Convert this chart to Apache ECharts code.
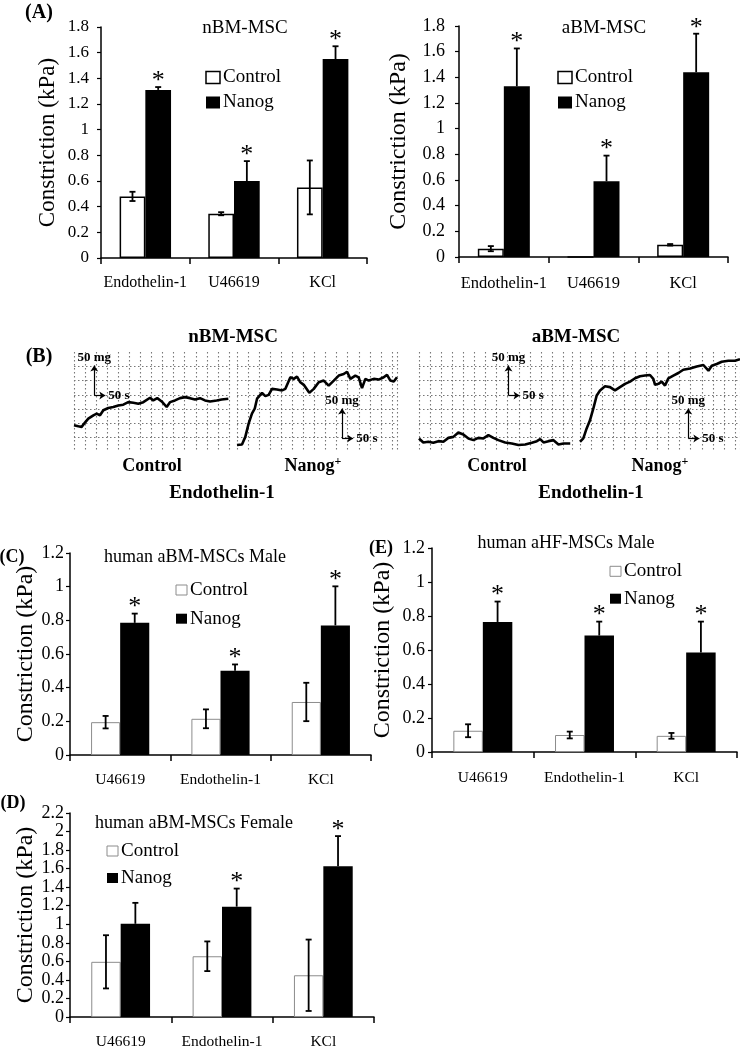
<!DOCTYPE html>
<html>
<head>
<meta charset="utf-8">
<title>Nanog constriction</title>
<script src="https://cdn.jsdelivr.net/npm/echarts@6/dist/echarts.min.js"></script>
<style>
  html, body { margin: 0; padding: 0; background: #fff; }
  #chart { width: 740px; height: 1050px; }
</style>
</head>
<body>
<div id="chart"></div>
<script>
// categories
const catsA = ['Endothelin-1', 'U46619', 'KCl']
const catsHuman = ['U46619', 'Endothelin-1', 'KCl']
const groups = ['Control', 'Nanog']

// (A) nBM-MSC
const nbmControl = [0.48, 0.345, 0.55]
const nbmControlErr = [0.036, 0.012, 0.21]
const nbmNanog = [1.31, 0.6, 1.55]
const nbmNanogErr = [0.022, 0.155, 0.1]
const nbmStars = [1, 1, 1]

// (A) aBM-MSC
const abmControl = [0.065, 0, 0.095]
const abmControlErr = [0.02, 0, 0.006]
const abmNanog = [1.33, 0.59, 1.44]
const abmNanogErr = [0.295, 0.2, 0.3]
const abmStars = [1, 1, 1]

// (C) human aBM-MSCs Male
const maleControl = [0.195, 0.215, 0.315]
const maleControlErr = [0.037, 0.056, 0.114]
const maleNanog = [0.785, 0.5, 0.77]
const maleNanogErr = [0.055, 0.038, 0.232]
const maleStars = [1, 1, 1]

// (E) human aHF-MSCs Male
const hfControl = [0.125, 0.1, 0.095]
const hfControlErr = [0.038, 0.02, 0.017]
const hfNanog = [0.765, 0.685, 0.585]
const hfNanogErr = [0.12, 0.082, 0.182]
const hfStars = [1, 1, 1]

// (D) human aBM-MSCs Female
const femaleControl = [0.595, 0.655, 0.45]
const femaleControlErr = [0.287, 0.16, 0.385]
const femaleNanog = [1.005, 1.19, 1.625]
const femaleNanogErr = [0.226, 0.195, 0.326]
const femaleStars = [0, 1, 1]

// (B) tension traces, [time, tension] in chart-paper grid units
const traceNbmControl = [[0, 1.88], [0.39, 1.8], [0.69, 1.76], [0.99, 2.06], [1.29, 2.34], [1.75, 2.57], [2.05, 2.69],
  [2.35, 2.57], [2.65, 2.92], [3.1, 3.08], [3.55, 3.15], [4.0, 3.26], [4.45, 3.31], [4.9, 3.49], [5.36, 3.45],
  [5.81, 3.38], [6.26, 3.49], [6.87, 3.8], [7.16, 3.61], [7.52, 3.77], [7.92, 3.54], [8.37, 3.15], [8.67, 3.49],
  [9.12, 3.61], [9.58, 3.77], [10.03, 3.84], [10.48, 3.77], [10.93, 3.68], [11.38, 3.77], [11.83, 3.61],
  [12.29, 3.54], [12.89, 3.61], [13.34, 3.68], [13.94, 3.73]]
const traceNbmNanog = [[0, 0.49], [0.45, 0.53], [0.75, 1.06], [1.05, 1.99], [1.35, 2.69], [1.6, 3.03], [1.81, 3.73],
  [2.26, 4.14], [2.56, 3.91], [2.86, 4.0], [3.16, 4.42], [3.61, 4.38], [4.07, 4.31], [4.37, 4.42], [4.82, 5.23],
  [5.12, 5.12], [5.42, 5.28], [5.72, 4.88], [6.03, 4.7], [6.53, 4.14], [6.93, 4.42], [7.38, 4.88], [7.83, 5.0],
  [8.28, 4.65], [8.74, 5.0], [9.19, 5.35], [9.64, 5.46], [9.94, 5.62], [10.24, 5.12], [10.69, 5.35], [10.99, 5.23],
  [11.29, 4.47], [11.59, 5.12], [11.9, 5.0], [12.35, 5.12], [12.8, 5.07], [13.25, 5.23], [13.55, 5.4],
  [13.85, 5.0], [14.16, 4.93], [14.45, 5.23]]
const traceAbmControl = [[0, 0.95], [0.39, 0.67], [0.84, 0.72], [1.29, 0.65], [1.75, 0.76], [2.2, 0.72], [2.65, 0.99],
  [3.1, 1.06], [3.55, 1.37], [4.0, 1.23], [4.46, 0.95], [4.91, 0.83], [5.36, 0.99], [5.81, 0.95], [6.26, 1.18],
  [6.71, 0.99], [7.16, 0.83], [7.77, 0.67], [8.37, 0.6], [8.97, 0.49], [9.58, 0.53], [10.18, 0.65], [10.63, 0.76],
  [10.93, 0.9], [11.23, 0.67], [11.68, 0.76], [12.13, 0.83], [12.58, 0.53], [13.04, 0.6], [13.64, 0.6]]
const traceAbmNanog = [[0, 0.72], [0.3, 0.95], [0.6, 1.65], [0.9, 2.22], [1.2, 3.03], [1.51, 3.96], [1.81, 4.31],
  [2.26, 4.6], [2.71, 4.54], [3.16, 4.31], [3.61, 4.54], [4.07, 4.77], [4.52, 4.93], [4.97, 5.16], [5.42, 5.3],
  [5.87, 5.35], [6.32, 5.39], [6.62, 5.12], [6.78, 4.7], [7.08, 4.77], [7.38, 4.93], [7.68, 4.65], [7.98, 5.16],
  [8.43, 5.35], [8.88, 5.53], [9.33, 5.76], [9.94, 5.85], [10.54, 5.99], [11.14, 6.09], [11.6, 5.69], [11.9, 6.04],
  [12.35, 6.16], [12.8, 6.32], [13.4, 6.39], [14.0, 6.39], [14.45, 6.5]]

const FONT = 'Liberation Serif'
const GAP = 0.42

// legend: x of the key box, y of the first row centre, row step, key size
const barPanels = [
  { grid: { left: 101, top: 27, width: 266, height: 231 }, cats: catsA, max: 1.8,
    control: nbmControl, controlErr: nbmControlErr, nanog: nbmNanog, nanogErr: nbmNanogErr, stars: nbmStars,
    border: '#000', borderWidth: 1.5, tickSize: 17, catSize: 16, yMargin: 12, catMargin: 17, nameSize: 23, nameGap: 42,
    legend: { x: 206, y: 77.5, step: 25, w: 14, h: 12 } },
  { grid: { left: 459, top: 26, width: 269, height: 231 }, cats: catsA, max: 1.8,
    control: abmControl, controlErr: abmControlErr, nanog: abmNanog, nanogErr: abmNanogErr, stars: abmStars,
    border: '#000', borderWidth: 1.5, tickSize: 18, catSize: 16.5, yMargin: 14, catMargin: 18, nameSize: 24, nameGap: 48,
    legend: { x: 558, y: 77.5, step: 25, w: 14, h: 12 } },
  { grid: { left: 70, top: 553, width: 301, height: 202 }, cats: catsHuman, max: 1.2,
    control: maleControl, controlErr: maleControlErr, nanog: maleNanog, nanogErr: maleNanogErr, stars: maleStars,
    border: '#8c8c8c', borderWidth: 1, tickSize: 18, catSize: 15.5, yMargin: 6, catMargin: 17, nameSize: 24, nameGap: 30,
    legend: { x: 176, y: 590, step: 28.7, w: 11, h: 10 } },
  { grid: { left: 432, top: 548, width: 305, height: 204 }, cats: catsHuman, max: 1.2,
    control: hfControl, controlErr: hfControlErr, nanog: hfNanog, nanogErr: hfNanogErr, stars: hfStars,
    border: '#8c8c8c', borderWidth: 1, tickSize: 18, catSize: 15.5, yMargin: 7, catMargin: 18, nameSize: 24, nameGap: 37,
    legend: { x: 610, y: 571.3, step: 27.4, w: 11, h: 10 } },
  { grid: { left: 70, top: 813, width: 304, height: 207 }, cats: catsHuman, max: 2.2,
    control: femaleControl, controlErr: femaleControlErr, nanog: femaleNanog, nanogErr: femaleNanogErr, stars: femaleStars,
    border: '#8c8c8c', borderWidth: 1, tickSize: 18, catSize: 15.5, yMargin: 6, catMargin: 17, nameSize: 24, nameGap: 32,
    legend: { x: 107, y: 851, step: 27, w: 11, h: 10 } }
]

// scale bars: corner of the "50 mg / 50 s" arrows in grid units
const tracePanels = [
  { grid: { left: 74, top: 352, width: 155, height: 100 }, xMax: 14, data: traceNbmControl, bar: [1.83, 3.96] },
  { grid: { left: 237, top: 352, width: 160, height: 100 }, xMax: 14.45, data: traceNbmNanog, bar: [9.49, 0.95] },
  { grid: { left: 419, top: 352, width: 153, height: 100 }, xMax: 13.8, data: traceAbmControl, bar: [8.07, 3.96] },
  { grid: { left: 580, top: 352, width: 160, height: 100 }, xMax: 14.45, data: traceAbmNanog, bar: [9.78, 0.95] }
]

function errorSeries(i, vals, errs, side, upOnly, stars) {
  return {
    type: 'custom',
    xAxisIndex: i,
    yAxisIndex: i,
    z: 5,
    silent: true,
    data: vals.map((v, k) => [k, v, errs[k], stars ? stars[k] : 0]),
    renderItem(params, api) {
      const k = api.value(0)
      const v = api.value(1)
      const e = api.value(2)
      const band = api.size([1, 0])[0]
      const w = band * (1 - GAP) / 2
      const cx = api.coord([k, v])[0] + side * w / 2
      const yTop = api.coord([k, v + e])[1]
      const yBot = api.coord([k, upOnly ? v : v - e])[1]
      const st = { stroke: '#000', lineWidth: 1.8 }
      const children = []
      if (e > 0) {
        children.push({ type: 'line', shape: { x1: cx, y1: yTop, x2: cx, y2: yBot }, style: st })
        children.push({ type: 'line', shape: { x1: cx - 3, y1: yTop, x2: cx + 3, y2: yTop }, style: st })
        if (!upOnly) {
          children.push({ type: 'line', shape: { x1: cx - 3, y1: yBot, x2: cx + 3, y2: yBot }, style: st })
        }
      }
      if (api.value(3)) {
        children.push({
          type: 'text',
          x: cx,
          y: yTop - 6,
          style: { text: '*', fill: '#000', fontFamily: FONT, fontSize: 26, align: 'center', verticalAlign: 'middle' }
        })
      }
      return { type: 'group', children }
    }
  }
}

function label(text, x, y, size, weight, align) {
  return {
    type: 'text',
    x,
    y,
    silent: true,
    style: {
      text,
      fill: '#000',
      fontFamily: FONT,
      fontSize: size,
      fontWeight: weight,
      align: align || 'center',
      verticalAlign: 'middle'
    }
  }
}

const grids = []
const xAxes = []
const yAxes = []
const series = []
const legendMarks = []

barPanels.forEach((p, i) => {
  grids.push(p.grid)
  xAxes.push({
    type: 'category',
    gridIndex: i,
    data: p.cats,
    axisLine: { show: true, lineStyle: { color: '#000', width: 1.5 } },
    axisTick: { show: true, length: 6, alignWithLabel: false, lineStyle: { color: '#000', width: 1.5 } },
    axisLabel: { color: '#000', fontFamily: FONT, fontSize: p.catSize, margin: p.catMargin, interval: 0 },
    splitLine: { show: false }
  })
  yAxes.push({
    type: 'value',
    gridIndex: i,
    min: 0,
    max: p.max,
    interval: 0.2,
    name: 'Constriction (kPa)',
    nameLocation: 'middle',
    nameGap: p.nameGap,
    nameTextStyle: { color: '#000', fontFamily: FONT, fontSize: p.nameSize },
    axisLine: { show: true, lineStyle: { color: '#000', width: 1.5 } },
    axisTick: { show: true, length: 4, lineStyle: { color: '#000', width: 1.2 } },
    axisLabel: { color: '#000', fontFamily: FONT, fontSize: p.tickSize, margin: p.yMargin },
    splitLine: { show: false }
  })
  const styles = [
    { color: '#fff', borderColor: p.border, borderWidth: p.borderWidth },
    { color: '#000' }
  ]
  series.push({
    type: 'bar',
    name: groups[0],
    xAxisIndex: i,
    yAxisIndex: i,
    data: p.control,
    barGap: '0%',
    barCategoryGap: GAP * 100 + '%',
    itemStyle: styles[0]
  })
  series.push({
    type: 'bar',
    name: groups[1],
    xAxisIndex: i,
    yAxisIndex: i,
    data: p.nanog,
    barGap: '0%',
    barCategoryGap: GAP * 100 + '%',
    itemStyle: styles[1]
  })
  series.push(errorSeries(i, p.control, p.controlErr, -1, false, null))
  series.push(errorSeries(i, p.nanog, p.nanogErr, 1, true, p.stars))

  // legend keys drawn directly so they sit inside the plot like the original
  const lg = p.legend
  groups.forEach((name, g) => {
    const cy = lg.y + g * lg.step
    legendMarks.push({
      type: 'rect',
      silent: true,
      shape: { x: lg.x, y: cy - lg.h / 2, width: lg.w, height: lg.h },
      style: {
        fill: styles[g].color,
        stroke: g === 0 ? p.border : '#000',
        lineWidth: g === 0 ? p.borderWidth : 0
      }
    })
    legendMarks.push(label(name, lg.x + lg.w + 3, cy, 19, 'normal', 'left'))
  })
})

const dotted = { color: '#777', type: [1.5, 2.5], width: 1.1 }
const scaleLabel = { fontFamily: FONT, fontWeight: 'bold', fontSize: 13, color: '#000' }

tracePanels.forEach((t, j) => {
  const i = barPanels.length + j
  const [bx, by] = t.bar
  grids.push(t.grid)
  xAxes.push({
    type: 'value',
    gridIndex: i,
    min: 0,
    max: t.xMax,
    interval: 1,
    axisLine: { show: false },
    axisTick: { show: false },
    axisLabel: { show: false },
    splitLine: { show: true, lineStyle: dotted }
  })
  yAxes.push({
    type: 'value',
    gridIndex: i,
    min: 0,
    max: 7,
    interval: 1,
    axisLine: { show: false },
    axisTick: { show: false },
    axisLabel: { show: false },
    splitLine: { show: true, showMinLine: false, showMaxLine: false, lineStyle: dotted }
  })
  series.push({
    type: 'line',
    xAxisIndex: i,
    yAxisIndex: i,
    data: t.data,
    symbol: 'none',
    lineStyle: { color: '#000', width: 2.6 },
    z: 3,
    markLine: {
      silent: true,
      animation: false,
      symbol: ['none', 'arrow'],
      symbolSize: 6,
      lineStyle: { color: '#000', width: 1.2, type: 'solid' },
      data: [
        [
          { coord: [bx, by], label: { show: true, position: 'end', formatter: '50 mg', distance: 1, ...scaleLabel } },
          { coord: [bx, by + 2.1], label: { show: true, position: 'end', formatter: '50 mg', distance: 1, ...scaleLabel } }
        ],
        [
          { coord: [bx, by], label: { show: true, position: 'end', formatter: '50 s', distance: 3, ...scaleLabel } },
          { coord: [bx + 1.0, by], label: { show: true, position: 'end', formatter: '50 s', distance: 3, ...scaleLabel } }
        ]
      ]
    }
  })
})

function nanogPlus(x, y) {
  return {
    type: 'text',
    x,
    y,
    silent: true,
    style: {
      text: '{n|Nanog}{p|+}',
      align: 'center',
      verticalAlign: 'middle',
      rich: {
        n: { fill: '#000', fontFamily: FONT, fontSize: 18, fontWeight: 'bold', lineHeight: 20 },
        p: { fill: '#000', fontFamily: FONT, fontSize: 12, fontWeight: 'bold', verticalAlign: 'top', lineHeight: 12 }
      }
    }
  }
}

const texts = [
  label('(A)', 39, 13, 20, 'bold'),
  label('nBM-MSC', 245, 28, 19, 'normal'),
  label('aBM-MSC', 604, 28, 19, 'normal'),
  label('(B)', 39, 357, 20, 'bold'),
  label('nBM-MSC', 233, 337, 19, 'bold'),
  label('aBM-MSC', 576, 337, 19, 'bold'),
  label('Control', 152, 466, 18, 'bold'),
  nanogPlus(313, 466),
  label('Control', 497, 466, 18, 'bold'),
  nanogPlus(660, 466),
  label('Endothelin-1', 222, 493, 19, 'bold'),
  label('Endothelin-1', 591, 493, 19, 'bold'),
  label('(C)', 12, 557, 18, 'bold'),
  label('human aBM-MSCs Male', 195, 557, 18, 'normal'),
  label('(E)', 381, 548, 18, 'bold'),
  label('human aHF-MSCs Male', 566, 543, 18, 'normal'),
  label('(D)', 13, 803, 18, 'bold'),
  label('human aBM-MSCs Female', 194, 823, 18, 'normal')
]

const chart = echarts.init(document.getElementById('chart'))
chart.setOption({
  backgroundColor: '#fff',
  animation: false,
  textStyle: { fontFamily: FONT },
  grid: grids,
  xAxis: xAxes,
  yAxis: yAxes,
  series,
  graphic: { elements: texts.concat(legendMarks) }
})
</script>
</body>
</html>
